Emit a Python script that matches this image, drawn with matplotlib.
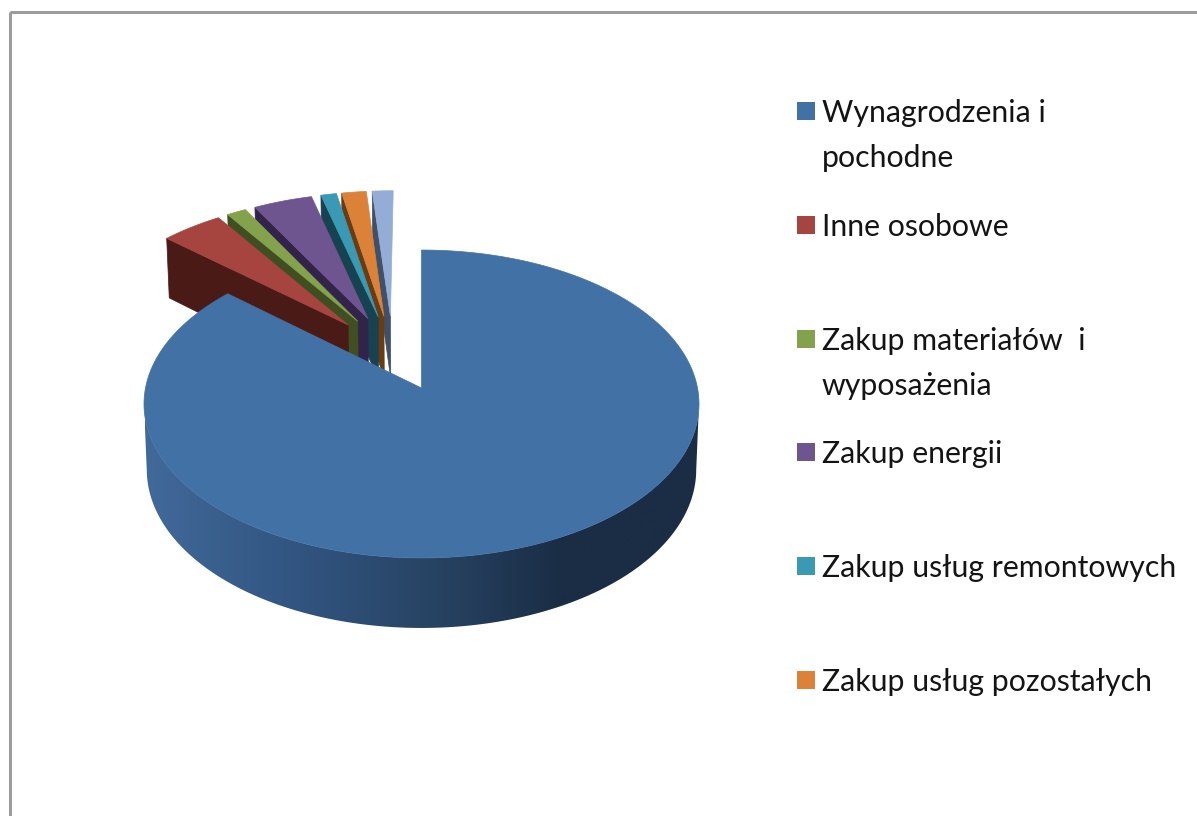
import math
import numpy as np
import matplotlib
matplotlib.use("Agg")
import matplotlib.pyplot as plt
from matplotlib.colors import LinearSegmentedColormap
from matplotlib.patches import Polygon, Rectangle

# legend has six rows, the seventh slice has no label in the picture
legend_names = [
    "Wynagrodzenia i\npochodne",
    "Inne osobowe",
    "Zakup materiałów  i\nwyposażenia",
    "Zakup energii",
    "Zakup usług remontowych",
    "Zakup usług pozostałych",
]
shares = [86.5, 4.15, 1.3, 3.95, 1.05, 1.65, 1.4]
top_colors = ["#4271A6", "#A64540", "#84A24C", "#6F5590", "#3A9AB5", "#DC8238", "#94ADD6"]
side_colors = ["#1B3049", "#4A1A16", "#3F4F22", "#32234A", "#17424F", "#6B3B12", "#3F5068"]
wall_stops = [(0.0, "#41699A"), (0.28, "#315480"), (0.55, "#26415F"), (0.75, "#1A2D45"), (1.0, "#1A2D45")]

# perspective of the pie, pixels
cx, cy = 421.5, 388
a, b, k = 152.3, 276.0, 0.1039
explode = 0.26


def project(u, w, down=False):
    d = 1 - k * w
    x = cx + b * u / d
    y = cy + a * w / d
    if down:
        x = cx + (x - cx) * 0.99
        y = y + 65 + 5 * w
    return x, y


def direction(deg):
    t = math.radians(deg)
    return math.sin(t), -math.cos(t)


fig = plt.figure(figsize=(11.97, 8.16), dpi=100)
ax = fig.add_axes([0, 0, 1, 1])
ax.axis("off")

ax.add_patch(Rectangle((10, 12), 1300, 900, fill=False, ec="#9C9C9C", lw=2.2))

edges = np.cumsum([0] + shares) * 3.6
mids = (edges[:-1] + edges[1:]) / 2
main_dir = direction(mids[0])

slices = []
for i in range(len(shares)):
    d = direction(mids[i])
    ou = explode * (d[0] - main_dir[0])
    ow = explode * (d[1] - main_dir[1])
    slices.append((ou, ow, edges[i], edges[i + 1]))

# small slices, right one first so the left ones lie over it
for i in range(len(shares) - 1, 0, -1):
    ou, ow, start, end = slices[i]
    su, sw = direction(start)
    face = [project(ou, ow), project(ou + su, ow + sw),
            project(ou + su, ow + sw, True), project(ou, ow, True)]
    ax.add_patch(Polygon(face, fc=side_colors[i], ec=side_colors[i], lw=0.5, zorder=2))
    pts = [project(ou, ow)]
    for deg in np.linspace(start, end, 20):
        du, dw = direction(deg)
        pts.append(project(ou + du, ow + dw))
    ax.add_patch(Polygon(pts, fc=top_colors[i], ec=top_colors[i], lw=0.5, zorder=2))

# big slice, shaded outer wall is a gradient clipped to the wall outline
# the outline starts where the rim is widest, so its sides are straight
ou, ow, start, end = slices[0]
degs = np.linspace(start, end, 400)
front = [deg for deg in degs if direction(deg)[1] >= k]
upper = [project(ou + direction(deg)[0], ow + direction(deg)[1]) for deg in front]
lower = [project(ou + direction(deg)[0], ow + direction(deg)[1], True) for deg in front]
wall = Polygon(upper + lower[::-1], fc="none", ec="none", transform=ax.transData)
ax.add_patch(wall)
wall_cmap = LinearSegmentedColormap.from_list("wall", wall_stops)
img = ax.imshow(np.linspace(1, 0, 256).reshape(1, -1), cmap=wall_cmap, aspect="auto",
                extent=[700, 145, 640, 380], zorder=3)
img.set_clip_path(wall)

pts = [project(ou, ow)]
for deg in degs:
    du, dw = direction(deg)
    pts.append(project(ou + du, ow + dw))
ax.add_patch(Polygon(pts, fc=top_colors[0], ec=top_colors[0], lw=0.5, zorder=4))

# legend
row_y = [111, 225, 339, 452, 566, 680]
for name, color, y in zip(legend_names, top_colors, row_y):
    ax.add_patch(Rectangle((797, y - 9), 18, 18, fc=color, ec="none"))
    for j, line in enumerate(name.split("\n")):
        ax.text(822, y + 2 + j * 45, line, family="Lato", fontsize=21.8,
                color="#141414", va="center", ha="left")

ax.set_xlim(0, 1197)
ax.set_ylim(816, 0)

fig.savefig("out.png", dpi=100)
plt.close()
